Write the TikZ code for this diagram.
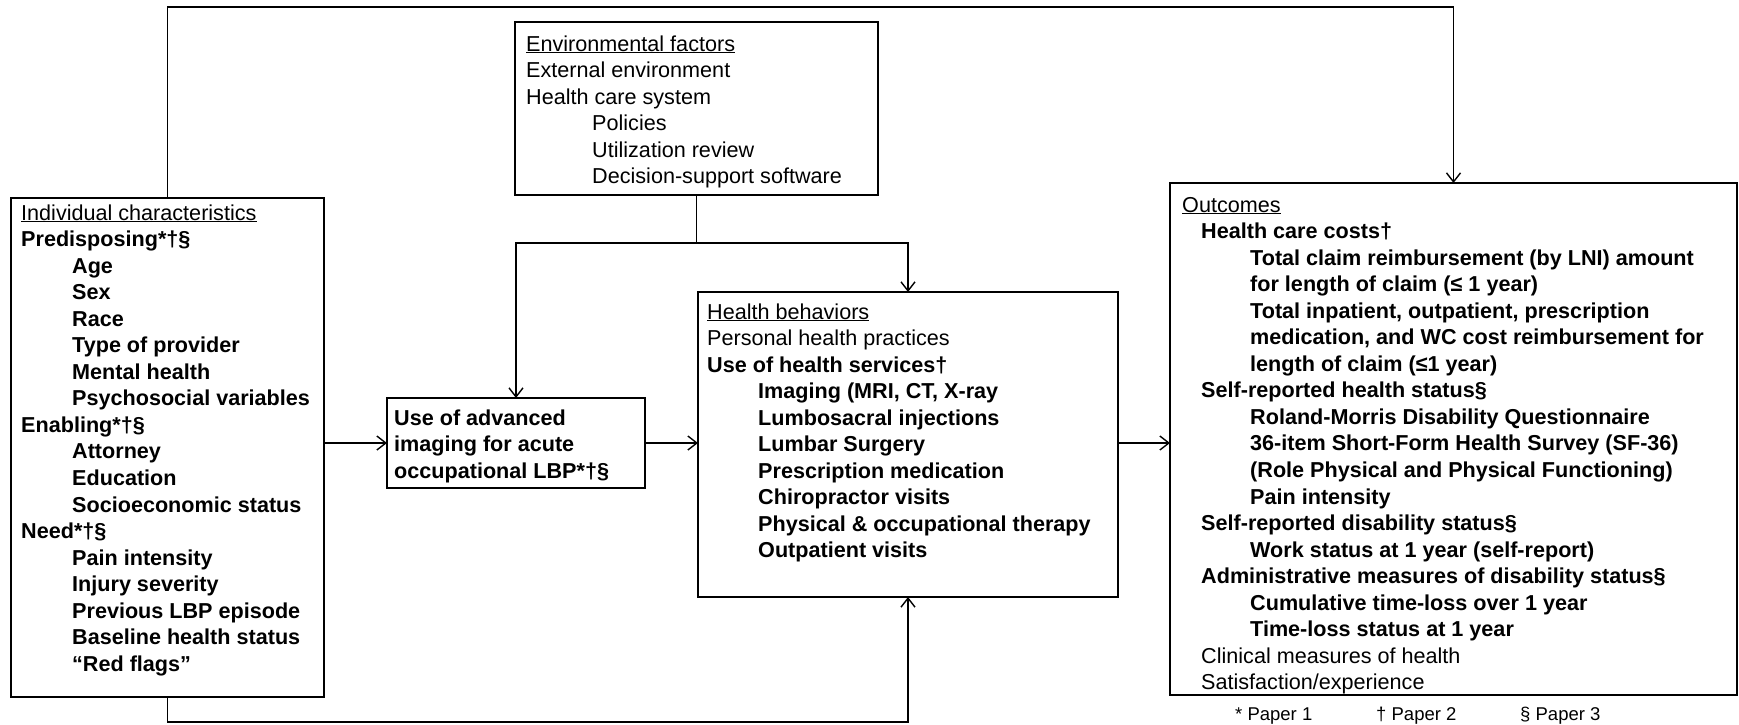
\documentclass[tikz,border=0pt]{standalone}
\usepackage{fontspec}
\setmainfont{Liberation Sans}
\usetikzlibrary{arrows.meta}

% indentation steps used inside the boxes
\newcommand\stepA{\hspace*{19pt}}
\newcommand\stepB{\hspace*{51pt}}
\newcommand\stepC{\hspace*{66pt}}
\newcommand\stepD{\hspace*{68pt}}

\begin{document}
\begin{tikzpicture}[x=1pt,y=-1pt,
  box/.style={draw, line width=1.1pt, inner sep=0pt, outer sep=0pt, anchor=north west},
  txt/.style={anchor=base west, inner sep=0pt, font=\fontsize{21.6}{26.55}\selectfont},
  foot/.style={anchor=base west, inner sep=0pt, font=\fontsize{18.5}{22}\selectfont},
  link/.style={line width=1.1pt, -{Straight Barb[length=9pt,width=14pt,line width=1.4pt]}},
  wire/.style={line width=1.1pt}]

\useasboundingbox (0,0) rectangle (1739,724);

% frames
\node[box, minimum width=313pt, minimum height=499pt] (ind) at (11,198) {};
\node[box, minimum width=363pt, minimum height=173pt] (env) at (515,22) {};
\node[box, minimum width=258pt, minimum height=90pt]  (lbp) at (387,398) {};
\node[box, minimum width=420pt, minimum height=305pt] (hb)  at (698,292) {};
\node[box, minimum width=567pt, minimum height=512pt] (out) at (1170,183) {};

% texts
\node[txt] (indtxt) at (21,220) {\begin{tabular}[t]{@{}l@{}}
\underline{Individual characteristics}\\
\textbf{Predisposing*†§}\\
\stepB\textbf{Age}\\
\stepB\textbf{Sex}\\
\stepB\textbf{Race}\\
\stepB\textbf{Type of provider}\\
\stepB\textbf{Mental health}\\
\stepB\textbf{Psychosocial variables}\\
\textbf{Enabling*†§}\\
\stepB\textbf{Attorney}\\
\stepB\textbf{Education}\\
\stepB\textbf{Socioeconomic status}\\
\textbf{Need*†§}\\
\stepB\textbf{Pain intensity}\\
\stepB\textbf{Injury severity}\\
\stepB\textbf{Previous LBP episode}\\
\stepB\textbf{Baseline health status}\\
\stepB\textbf{“Red flags”}
\end{tabular}};

\node[txt] (envtxt) at (526,51) {\begin{tabular}[t]{@{}l@{}}
\underline{Environmental factors}\\
External environment\\
Health care system\\
\stepC Policies\\
\stepC Utilization review\\
\stepC Decision-support software
\end{tabular}};

\node[txt] (lbptxt) at (394,425) {\begin{tabular}[t]{@{}l@{}}
\textbf{Use of advanced}\\
\textbf{imaging for acute}\\
\textbf{occupational LBP*†§}
\end{tabular}};

\node[txt] (hbtxt) at (707,319) {\begin{tabular}[t]{@{}l@{}}
\underline{Health behaviors}\\
Personal health practices\\
\textbf{Use of health services†}\\
\stepB\textbf{Imaging (MRI, CT, X-ray}\\
\stepB\textbf{Lumbosacral injections}\\
\stepB\textbf{Lumbar Surgery}\\
\stepB\textbf{Prescription medication}\\
\stepB\textbf{Chiropractor visits}\\
\stepB\textbf{Physical \& occupational therapy}\\
\stepB\textbf{Outpatient visits}
\end{tabular}};

\node[txt] (outtxt) at (1182,212) {\begin{tabular}[t]{@{}l@{}}
\underline{Outcomes}\\
\stepA\textbf{Health care costs†}\\
\stepD\textbf{Total claim reimbursement (by LNI) amount}\\
\stepD\textbf{for length of claim (≤ 1 year)}\\
\stepD\textbf{Total inpatient, outpatient, prescription}\\
\stepD\textbf{medication, and WC cost reimbursement for}\\
\stepD\textbf{length of claim (≤1 year)}\\
\stepA\textbf{Self-reported health status§}\\
\stepD\textbf{Roland-Morris Disability Questionnaire}\\
\stepD\textbf{36-item Short-Form Health Survey (SF-36)}\\
\stepD\textbf{(Role Physical and Physical Functioning)}\\
\stepD\textbf{Pain intensity}\\
\stepA\textbf{Self-reported disability status§}\\
\stepD\textbf{Work status at 1 year (self-report)}\\
\stepA\textbf{Administrative measures of disability status§}\\
\stepD\textbf{Cumulative time-loss over 1 year}\\
\stepD\textbf{Time-loss status at 1 year}\\
\stepA Clinical measures of health\\
\stepA Satisfaction/experience
\end{tabular}};

% key to the paper marks
\node[foot] (p1) at (1235,720) {* Paper 1};
\node[foot] (p2) at (1376,720) {† Paper 2};
\node[foot] (p3) at (1520,720) {§ Paper 3};

% routing levels of the long connectors
\coordinate (topbar) at (0,7);
\coordinate (botbar) at (0,722);
\coordinate (envbar) at (0,243);

% connectors
\draw[link] (ind.north) -- (ind.north |- topbar) -| (out.north);
\draw[link] (ind.south) -- (ind.south |- botbar) -| (hb.south);
\draw[link] (env.south) -- (env.south |- envbar) -| (lbp.north);
\draw[link] (env.south |- envbar) -| (hb.north);
\draw[link] (ind.east |- lbp.west) -- (lbp.west);
\draw[link] (lbp.east) -- (hb.west |- lbp.east);
\draw[link] (hb.east |- lbp.east) -- (out.west |- lbp.east);
\end{tikzpicture}
\end{document}
